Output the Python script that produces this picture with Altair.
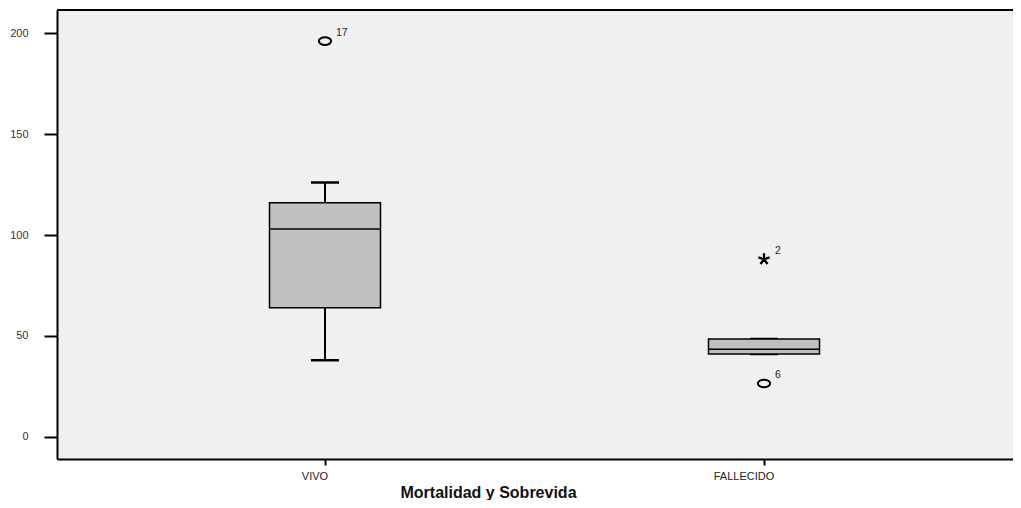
import altair as alt
import pandas as pd

# ---- data ----
categories = ["VIVO", "FALLECIDO"]
positions = [1, 2]
whisker_low = [38, 41.1]
q1 = [64, 41.1]
median = [103, 43.4]
q3 = [116, 48.5]
whisker_high = [126, 48.5]

outlier_pos = [1, 2, 2]
outlier_val = [196, 88, 26.5]
outlier_lbl = ["17", "2", "6"]
outlier_kind = ["circle", "star", "circle"]

# label shift (styling) to mimic the reference's off-centre category labels
label_shift = [-10, -20]

W, H = 956, 449
PX_PER_UNIT = 439.0
XDOM = [1 - 268 / PX_PER_UNIT, 1 - 268 / PX_PER_UNIT + W / PX_PER_UNIT]
YDOM = [-10.9, 211.4]

boxes = pd.DataFrame({
    "pos": positions, "cat": categories, "lo": whisker_low, "q1": q1,
    "med": median, "q3": q3, "hi": whisker_high,
})
outl = pd.DataFrame({"pos": outlier_pos, "val": outlier_val,
                     "lbl": outlier_lbl, "kind": outlier_kind})

xscale = alt.Scale(domain=XDOM, nice=False, zero=False, padding=0)
yscale = alt.Scale(domain=YDOM, nice=False, zero=False, padding=0)

x_enc = alt.X("pos:Q", scale=xscale, axis=alt.Axis(
    values=positions, labels=False, title="Mortalidad y Sobrevida",
    grid=False, domainColor="#000000", domainWidth=2, tickColor="#000000",
    tickWidth=2, tickSize=6, titleFont="Liberation Sans",
    titleFontSize=16, titleFontWeight="bold", titleColor="#111111",
    titleX=431, titleY=38, titleBaseline="alphabetic",
    titleAnchor="middle", titleAlign="center"))
y_enc = alt.Y("lo:Q", scale=yscale, axis=alt.Axis(
    values=[0, 50, 100, 150, 200], title=None, grid=False,
    domainColor="#000000", domainWidth=2, tickColor="#000000", tickWidth=2,
    tickSize=13, labelFont="Liberation Sans", labelFontSize=11,
    labelColor="#333333", labelPadding=16))

base = alt.Chart(boxes)

whisk = base.mark_rule(color="#000000", strokeWidth=2).encode(
    x=x_enc, y=y_enc, y2="hi:Q")
cap_lo = base.mark_tick(orient="horizontal", size=28, thickness=2.5,
                        color="#000000", opacity=1).encode(
    x=alt.X("pos:Q", scale=xscale), y=alt.Y("lo:Q", scale=yscale))
cap_hi = base.mark_tick(orient="horizontal", size=28, thickness=2.5,
                        color="#000000", opacity=1).encode(
    x=alt.X("pos:Q", scale=xscale), y=alt.Y("hi:Q", scale=yscale))
box = base.mark_bar(size=111, fill="#C0C0C0", stroke="#000000",
                    strokeWidth=1.5).encode(
    x=alt.X("pos:Q", scale=xscale), y=alt.Y("q1:Q", scale=yscale), y2="q3:Q")
med = base.mark_tick(orient="horizontal", size=111, thickness=1.5,
                     color="#000000", opacity=1).encode(
    x=alt.X("pos:Q", scale=xscale), y=alt.Y("med:Q", scale=yscale))

cat_labels = []
for cat, shift in zip(categories, label_shift):
    cat_labels.append(
        base.transform_filter(alt.datum.cat == cat).mark_text(
            align="center", baseline="middle", dx=shift,
            font="Liberation Sans", fontSize=11, color="#222222").encode(
            x=alt.X("pos:Q", scale=xscale), y=alt.value(H + 18),
            text="cat:N"))

ellipse = "M -1,0 A 1,0.62 0 1,1 1,0 A 1,0.62 0 1,1 -1,0 Z"
star = ("M 0,0 L 0,-1 M 0,0 L 0.95,-0.31 M 0,0 L 0.59,0.81 "
        "M 0,0 L -0.59,0.81 M 0,0 L -0.95,-0.31")

ob = alt.Chart(outl)
circ = ob.transform_filter("datum.kind == 'circle'").mark_point(
    shape=ellipse, size=150, filled=False, stroke="#000000",
    strokeWidth=2, opacity=1).encode(
    x=alt.X("pos:Q", scale=xscale), y=alt.Y("val:Q", scale=yscale))
stars = ob.transform_filter("datum.kind == 'star'").mark_point(
    shape=star, size=140, filled=False, stroke="#000000",
    strokeWidth=2.3, opacity=1).encode(
    x=alt.X("pos:Q", scale=xscale), y=alt.Y("val:Q", scale=yscale))
lbls = ob.mark_text(align="left", baseline="middle", dx=11, dy=-8,
                    font="Liberation Sans", fontSize=10.5,
                    color="#222222").encode(
    x=alt.X("pos:Q", scale=xscale), y=alt.Y("val:Q", scale=yscale),
    text="lbl:N")

top = alt.Chart(boxes).mark_rule(color="#000000", strokeWidth=2).encode(
    x=alt.value(0), x2=alt.value(W), y=alt.value(0))

chart = alt.layer(whisk, cap_lo, cap_hi, box, med, circ, stars, lbls, top,
                  *cat_labels).properties(
    width=W, height=H,
    autosize=alt.AutoSizeParams(type="none"),
    padding={"left": 49, "top": 2, "right": 0, "bottom": 41},
    background="#FFFFFF",
).configure_view(fill="#F0F0F0", stroke=None)

chart.save("out.html", embed_options={"renderer": "svg", "actions": False})
